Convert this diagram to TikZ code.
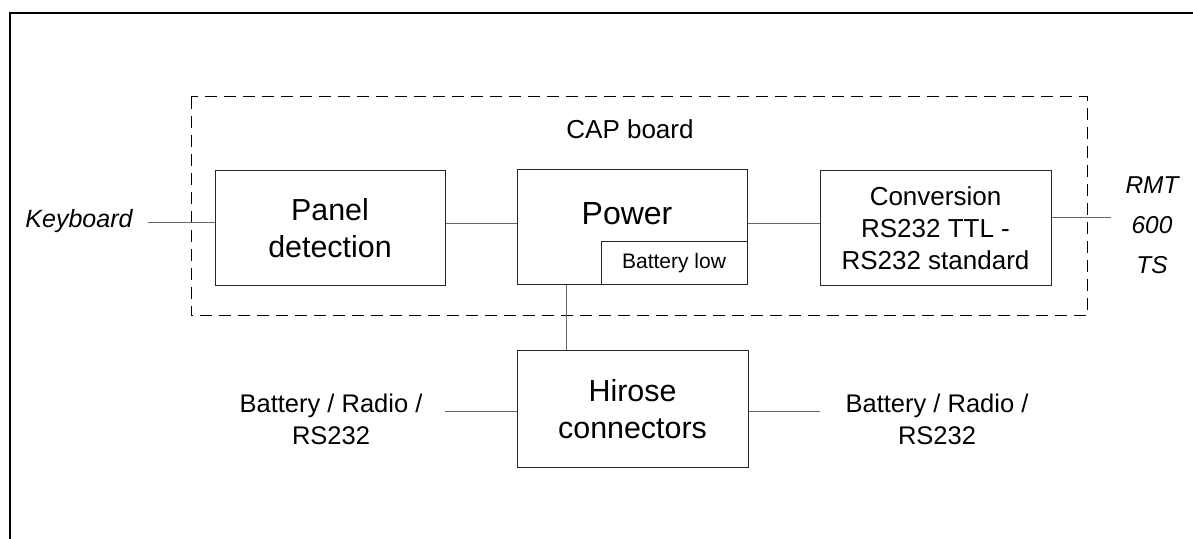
\documentclass[tikz,border=0pt]{standalone}
\usepackage{fontspec}
\setmainfont{Liberation Sans}
\begin{document}
\begin{tikzpicture}[x=0.5pt,y=-0.5pt,
  block/.style={draw=black!85, line width=0.5pt, align=center, inner sep=0pt, font=\fontsize{15.2}{18.5}\selectfont},
  wire/.style={draw=black!60, line width=0.5pt},
  small/.style={align=center, font=\fontsize{12.75}{16}\selectfont}]
\useasboundingbox (0,0) rectangle (1193,539);
% outer frame, cut at the right and bottom
\draw[line width=0.6pt] (10,539) -- (10,13) -- (1193,13);
% CAP board
\draw[dash pattern=on 6pt off 3.5pt, line width=0.5pt] (191,97) rectangle (1087,316);
\node[small, font=\fontsize{13}{16}\selectfont] (cap) at (630,129) {CAP board};
\node[block, minimum width=115pt, minimum height=57.5pt] (panel) at (330,228) {Panel\\detection};
\node[block, minimum width=115pt, minimum height=57.5pt] (power) at (632,227.5) {};
\node[font=\fontsize{16}{18}\selectfont] (powertxt) at (627,214) {Power};
\node[block, minimum width=73pt, minimum height=21.5pt, font=\fontsize{10.5}{12}\selectfont] (batlow) at (674,263.5) {Battery low};
\node[block, minimum width=115.5pt, minimum height=57.5pt, font=\fontsize{13}{16}\selectfont] (conv) at (935.5,228.5) {Conversion\\RS232 TTL -\\RS232 standard};
\node[block, minimum width=115.5pt, minimum height=58pt] (hirose) at (632.5,409) {Hirose\\connectors};
% outside
\node[font=\fontsize{12.5}{14}\itshape] (kbd) at (79,221) {Keyboard};
\node[align=center, font=\fontsize{12.2}{20}\itshape] (rmt) at (1152,225) {RMT\\600\\TS};
\node[small] (batl) at (331,419) {Battery / Radio /\\RS232};
\node[small] (batr) at (937,419) {Battery / Radio /\\RS232};
\coordinate (kbdend) at (148,223);
\coordinate (rmtend) at (1111,218);
\coordinate (hl) at (445,411);
\coordinate (hr) at (820,411);
% connectors
\draw[wire] (kbdend) -- (kbdend -| panel.west);
\draw[wire] (panel.east |- 0,224) -- (power.west |- 0,224);
\draw[wire] (power.east |- 0,224) -- (conv.west |- 0,224);
\draw[wire] (conv.east |- rmtend) -- (rmtend);
\draw[wire] (power.south -| 566,0) -- (hirose.north -| 566,0);
\draw[wire] (hl) -- (hl -| hirose.west);
\draw[wire] (hirose.east |- hr) -- (hr);
\end{tikzpicture}
\end{document}
